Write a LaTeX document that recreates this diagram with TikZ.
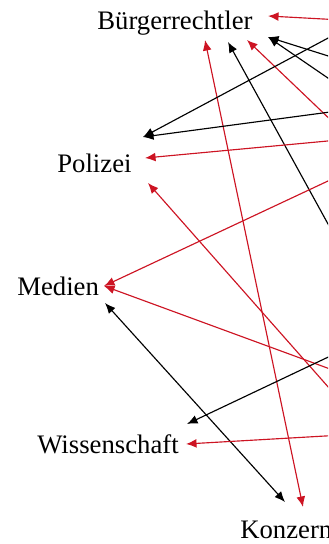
\documentclass[tikz,border=0pt]{standalone}
\usepackage{fontspec}
\setmainfont{Liberation Serif}
\usepackage{xcolor}
\usetikzlibrary{arrows.meta,positioning}

\definecolor{linkred}{RGB}{205,20,35}

\begin{document}
\begin{tikzpicture}[x=0.02cm, y=-0.02cm,
    actor/.style={anchor=base west, inner sep=0pt, font=\fontsize{15.2}{18}\selectfont},
    blackarrow/.style={-{Latex[length=6pt,width=5pt]}, line width=0.65pt, black},
    redarrow/.style={-{Latex[length=6pt,width=5pt]}, line width=0.65pt, linkred},
    blackboth/.style={{Latex[length=6pt,width=5pt]}-{Latex[length=6pt,width=5pt]}, line width=0.65pt, black},
    redboth/.style={{Latex[length=6pt,width=5pt]}-{Latex[length=6pt,width=5pt]}, line width=0.65pt, linkred}
]
\useasboundingbox (0,0) rectangle (328,544);
\clip (0,0) rectangle (328,544);

% actors
\node[actor] (buerger) at (97,30) {Bürgerrechtler};
\node[actor] (polizei) at (57,172) {Polizei};
\node[actor] (medien) at (17,295) {Medien};
\node[actor] (wissen) at (37,453) {Wissenschaft};
\node[actor] (konzern) at (240,538) {Konzerne};

% arrow ends near the actors
\coordinate (b1) at (268,16);
\coordinate (b2) at (205,40);
\coordinate (b3) at (228,42);
\coordinate (b4) at (247,40);
\coordinate (b5) at (268,37);
\coordinate (p1) at (143,137);
\coordinate (p2) at (145,158);
\coordinate (p3) at (148,183);
\coordinate (m1) at (104,286);
\coordinate (m2) at (105,303);
\coordinate (w1) at (187,424);
\coordinate (w2) at (186,444);
\coordinate (k1) at (285,502);
\coordinate (k2) at (303,507);
\coordinate (k3) at (330,503);

% actors beyond the right edge
\coordinate (o1) at (360,21);
\coordinate (o2) at (350,264);
\coordinate (o3) at (360,148);
\coordinate (o4) at (360,66);
\coordinate (o5) at (360,100);
\coordinate (o6) at (360,21);
\coordinate (o7) at (360,108);
\coordinate (o8) at (360,138);
\coordinate (o9) at (360,423);
\coordinate (o10) at (360,166);
\coordinate (o11) at (360,380);
\coordinate (o12) at (360,342);
\coordinate (o13) at (360,434);
\coordinate (o14) at (360,420);

% Buergerrechtler
\draw[redarrow] (o1) -- (b1);
\draw[redboth] (b2) -- (k2);
\draw[blackarrow] (o2) -- (b3);
\draw[redarrow] (o3) -- (b4);
\draw[blackarrow] (o4) -- (b5);
\draw[blackarrow] (o5) -- (b5);

% Polizei
\draw[blackarrow] (o6) -- (p1);
\draw[blackarrow] (o7) -- (p1);
\draw[redarrow] (o8) -- (p2);
\draw[redarrow] (o9) -- (p3);

% Medien
\draw[redarrow] (o10) -- (m1);
\draw[redarrow] (o11) -- (m1);
\draw[blackboth] (m2) -- (k1);

% Wissenschaft
\draw[blackarrow] (o12) -- (w1);
\draw[redarrow] (o13) -- (w2);

% Konzerne
\draw[blackarrow] (o14) -- (k3);

\end{tikzpicture}
\end{document}
